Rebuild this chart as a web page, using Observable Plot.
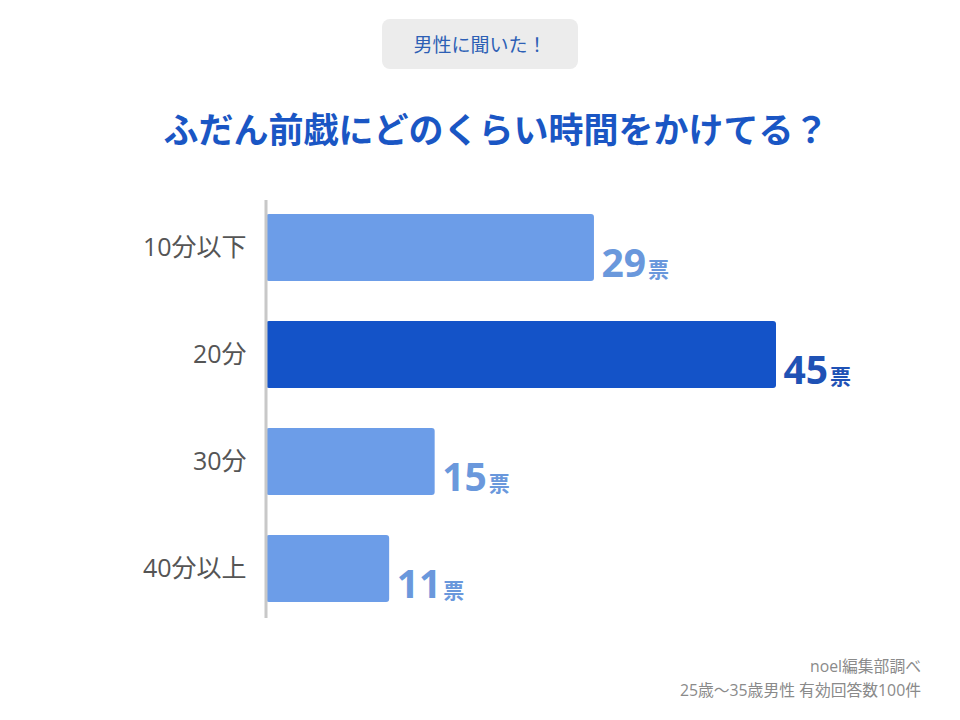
<!DOCTYPE html>
<html lang="ja">
<head>
<meta charset="utf-8">
<script src="https://cdn.jsdelivr.net/npm/d3@7"></script>
<script src="https://cdn.jsdelivr.net/npm/@observablehq/plot@0.6"></script>
<style>
  html, body { margin: 0; padding: 0; background: #fff; }
  body { width: 960px; height: 720px; position: relative; overflow: hidden;
         font-family: "Open Sans", "Noto Sans CJK JP", sans-serif; }
  #badge { position: absolute; left: 382px; top: 19px; width: 196px; height: 50px;
           background: #ececec; border-radius: 8px; color: #2d5fb5; font-size: 19px;
           display: flex; align-items: center; justify-content: center; }
  #title { position: absolute; left: 16px; top: 104px; width: 960px; text-align: center;
           font-size: 35px; font-weight: bold; color: #1a56c4; line-height: 52px; }
  #chart { position: absolute; left: 0; top: 180px; }
  #caption { position: absolute; right: 39px; top: 654px; text-align: right;
             color: #8a8a8a; font-size: 15.8px; line-height: 24px; }
</style>
</head>
<body>
<div id="badge">男性に聞いた！</div>
<div id="title">ふだん前戯にどのくらい時間をかけてる？</div>
<div id="chart"></div>
<div id="caption">noel編集部調べ<br>25歳〜35歳男性 有効回答数100件</div>
<script>
const categories = ["10分以下", "20分", "30分", "40分以上"];
const votes = [29, 45, 15, 11];
const unit = "票";
const highlight = "20分";

const data = categories.map((c, i) => ({category: c, votes: votes[i], hi: c === highlight}));
const light = "#6c9de8", dark = "#1453c8";
const lightText = "#6a98dc", darkText = "#1f52b5";

const plot = Plot.plot({
  width: 960,
  height: 450,
  marginLeft: 264,
  marginRight: 184,
  marginTop: 14,
  marginBottom: 8,
  style: {fontFamily: "'Open Sans', 'Noto Sans CJK JP', sans-serif", background: "transparent"},
  x: {domain: [0, 45], axis: null},
  y: {domain: categories, paddingInner: 0.374, paddingOuter: 0.187, label: null, tickSize: 0, tickPadding: 18},
  marks: [
    Plot.barX(data, {x1: 0, x2: "votes", y: "category", fill: d => d.hi ? dark : light, rx: 3, insetLeft: 2}),
    Plot.ruleX([0], {stroke: "#c8c8c8", strokeWidth: 3, dx: 1.5, insetTop: 6, insetBottom: 4}),
    Plot.text(data, {x: "votes", y: "category", text: d => String(d.votes), textAnchor: "start",
      dx: 7, dy: 17, fontSize: 39, fontWeight: "bold", fill: d => d.hi ? darkText : lightText,
      className: "vlabel"})
  ]
});

// style y-axis tick labels
d3.select(plot).selectAll("g[aria-label='y-axis tick label']")
  .attr("font-size", 25).attr("fill", "#555");
d3.select(plot).selectAll("g[aria-label='y-axis tick label'] text").style("font-size", "25px");

// append unit as smaller tspan
d3.select(plot).selectAll(".vlabel text").each(function() {
  const t = d3.select(this);
  const num = t.text();
  t.text("");
  t.append("tspan").text(num);
  t.append("tspan").attr("font-size", 21).attr("dx", 2).attr("font-family", "'Noto Sans CJK JP', sans-serif").text(unit);
});

document.getElementById("chart").appendChild(plot);
</script>
</body>
</html>
